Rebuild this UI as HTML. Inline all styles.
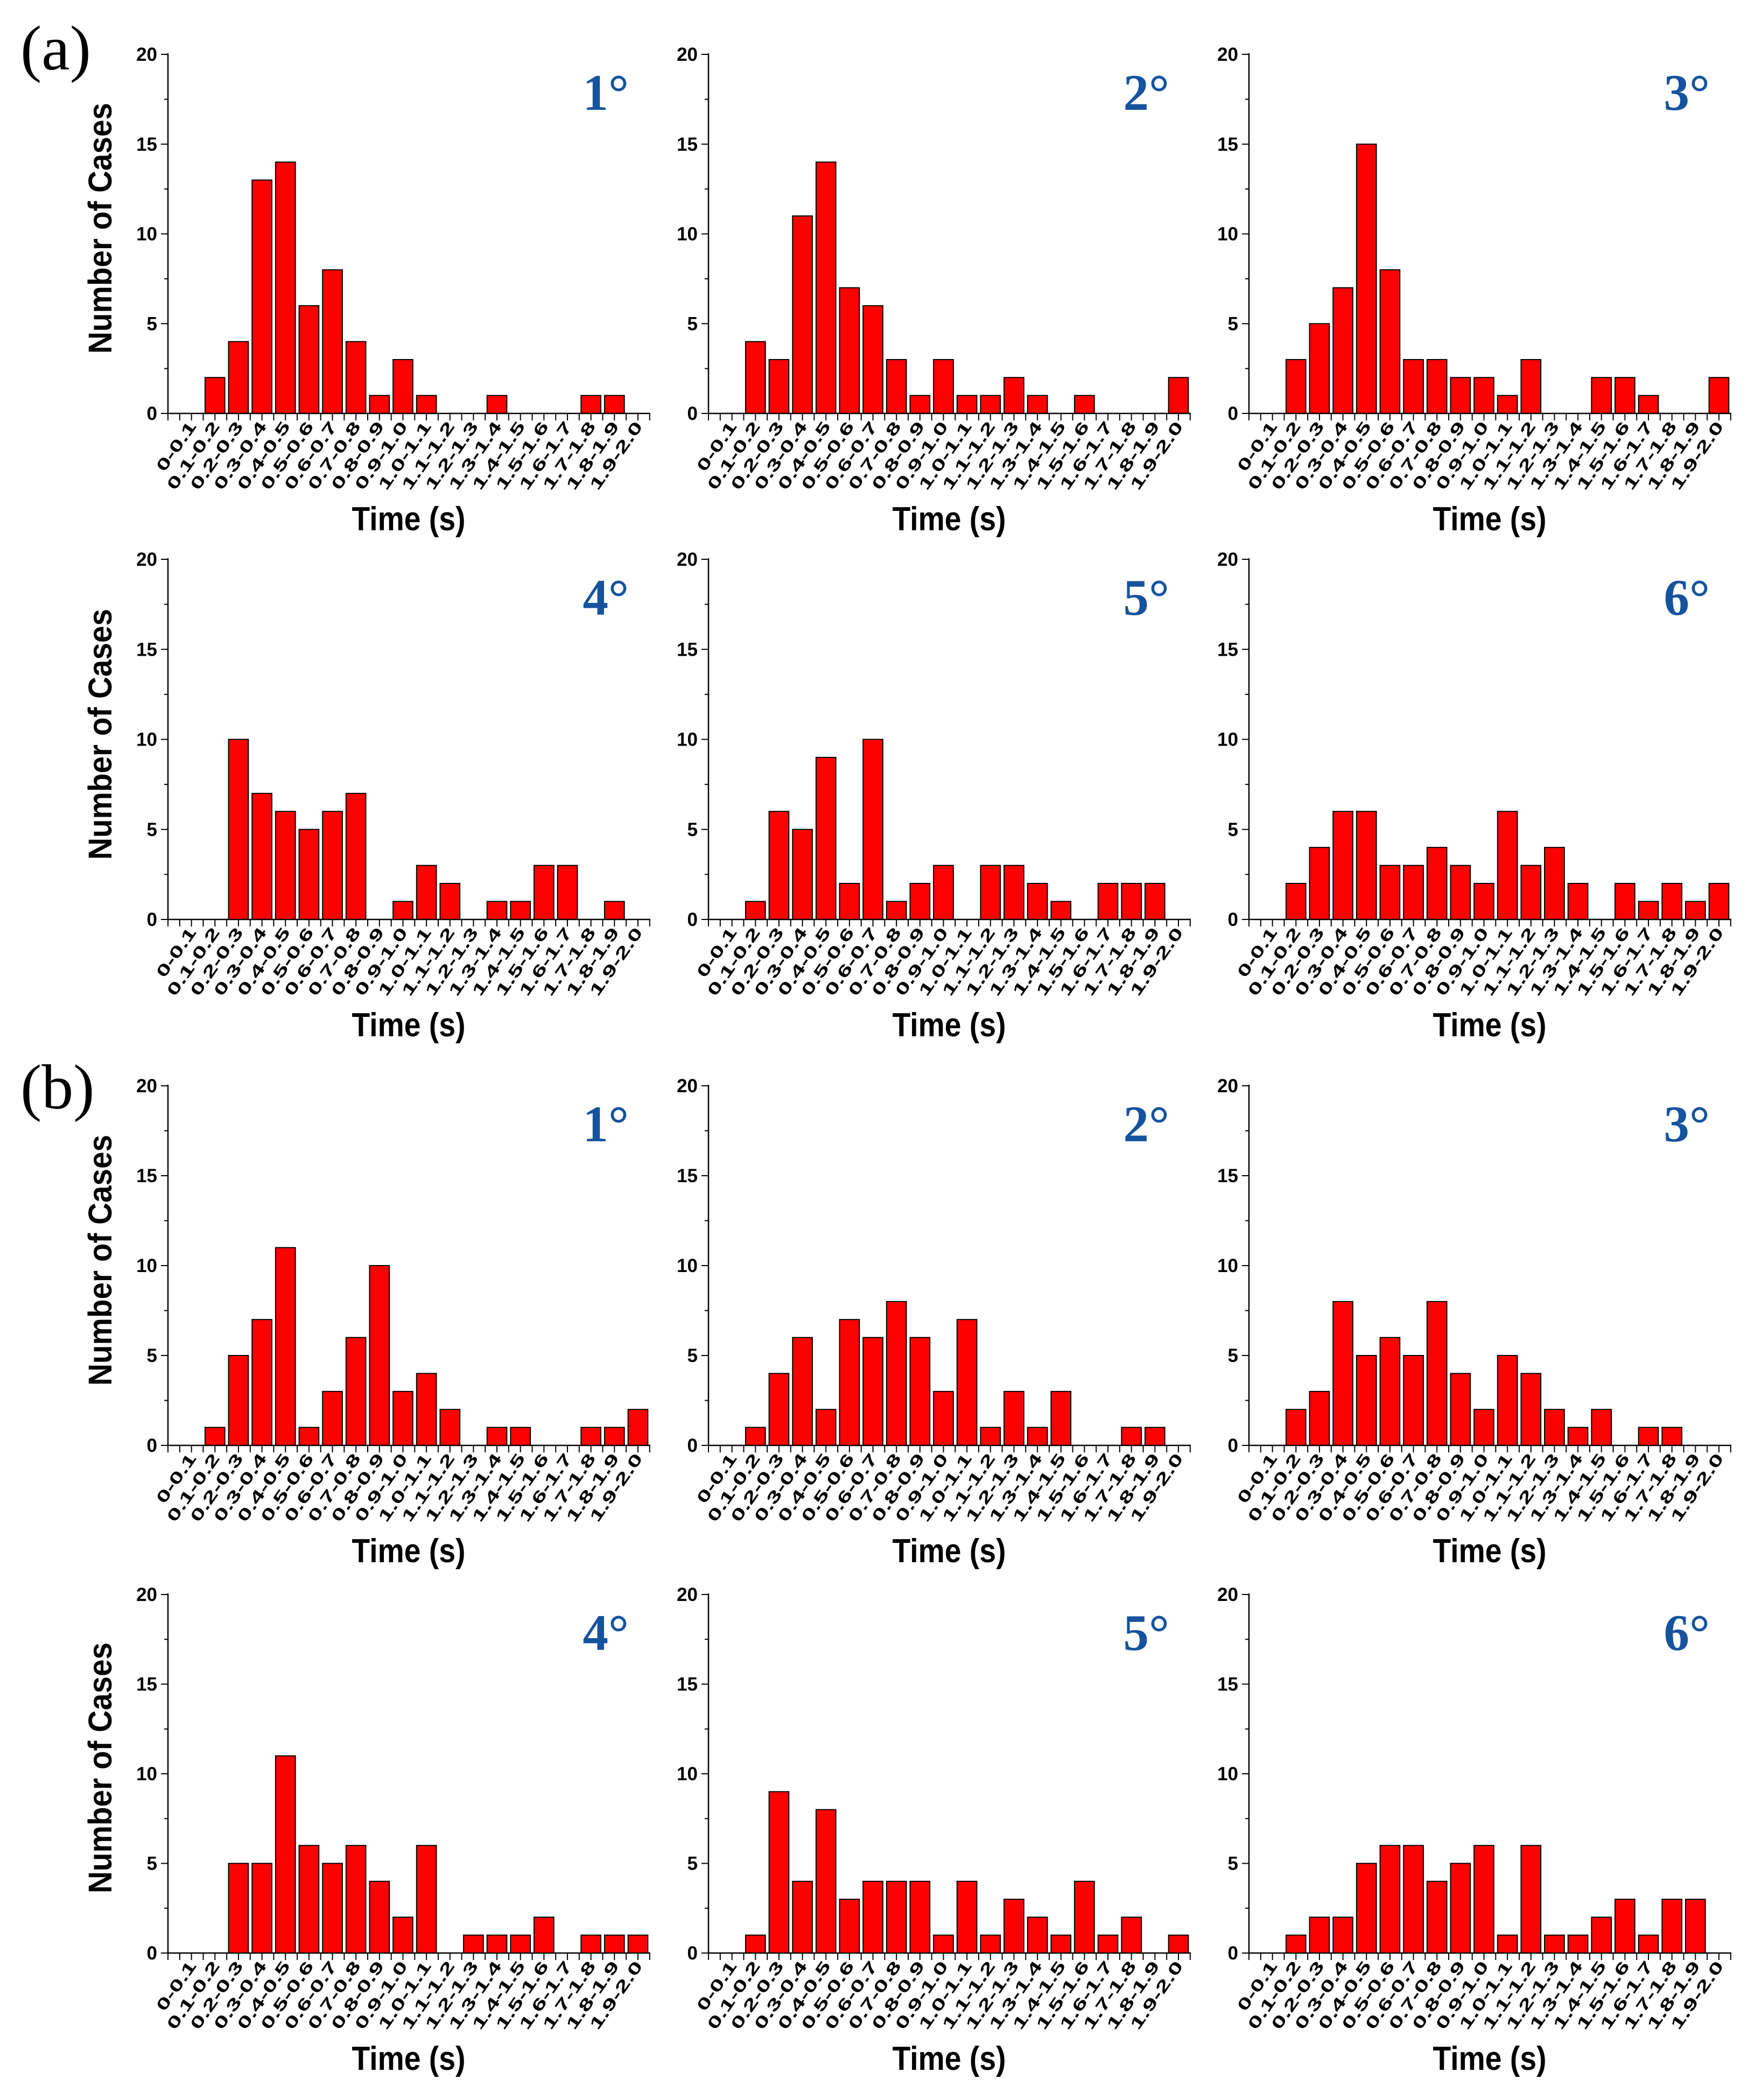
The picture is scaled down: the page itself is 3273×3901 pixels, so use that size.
<!DOCTYPE html>
<html><head><meta charset="utf-8"><style>
html,body{margin:0;padding:0;background:#fff;}
svg{display:block;}
text{font-family:"Liberation Sans",Arial,sans-serif;}
</style></head><body>
<svg id="fig" width="3273" height="3901" viewBox="0 0 3273 3901" xmlns="http://www.w3.org/2000/svg">
<rect width="3273" height="3901" fill="#fff"/>
<text x="38" y="129" font-size="118" style="font-family:'Liberation Serif',serif">(a)</text>
<text x="38" y="2059" font-size="118" style="font-family:'Liberation Serif',serif">(b)</text>
</svg>
<script>
const categories = ["0-0.1","0.1-0.2","0.2-0.3","0.3-0.4","0.4-0.5","0.5-0.6","0.6-0.7","0.7-0.8","0.8-0.9","0.9-1.0","1.0-1.1","1.1-1.2","1.2-1.3","1.3-1.4","1.4-1.5","1.5-1.6","1.6-1.7","1.7-1.8","1.8-1.9","1.9-2.0"];
const yTicks = [0,5,10,15,20];
const degreeLabels = ["1°","2°","3°","4°","5°","6°","1°","2°","3°","4°","5°","6°"];
const a1 = [0,2,4,13,14,6,8,4,1,3,1,0,0,1,0,0,0,1,1,0];
const a2 = [0,4,3,11,14,7,6,3,1,3,1,1,2,1,0,1,0,0,0,2];
const a3 = [0,3,5,7,15,8,3,3,2,2,1,3,0,0,2,2,1,0,0,2];
const a4 = [0,0,10,7,6,5,6,7,0,1,3,2,0,1,1,3,3,0,1,0];
const a5 = [0,1,6,5,9,2,10,1,2,3,0,3,3,2,1,0,2,2,2,0];
const a6 = [0,2,4,6,6,3,3,4,3,2,6,3,4,2,0,2,1,2,1,2];
const b1 = [0,1,5,7,11,1,3,6,10,3,4,2,0,1,1,0,0,1,1,2];
const b2 = [0,1,4,6,2,7,6,8,6,3,7,1,3,1,3,0,0,1,1,0];
const b3 = [0,2,3,8,5,6,5,8,4,2,5,4,2,1,2,0,1,1,0,0];
const b4 = [0,0,5,5,11,6,5,6,4,2,6,0,1,1,1,2,0,1,1,1];
const b5 = [0,1,9,4,8,3,4,4,4,1,4,1,3,2,1,4,1,2,0,1];
const b6 = [0,1,2,2,5,6,6,4,5,6,1,6,1,1,2,3,1,3,3,0];
const seriesList = [a1,a2,a3,a4,a5,a6,b1,b2,b3,b4,b5,b6];
const seriesNames = ["a-1deg","a-2deg","a-3deg","a-4deg","a-5deg","a-6deg","b-1deg","b-2deg","b-3deg","b-4deg","b-5deg","b-6deg"];

const NS="http://www.w3.org/2000/svg";
const svg=document.getElementById('fig');
const colX=[312,1316,2320];
const rowTop=[101,1039,2017,2962];
const rowZero=[768,1708,2685,3628];
const catW=43.65, plotW=896, yMax=20;

function mk(tag,attrs,parent){const e=document.createElementNS(NS,tag);for(const k in attrs)e.setAttribute(k,attrs[k]);(parent||svg).appendChild(e);return e;}

seriesList.forEach((data,i)=>{
  const ox=colX[i%3], r=Math.floor(i/3), top=rowTop[r], y0=rowZero[r];
  const yS=v=>y0-(v/yMax)*(y0-top);
  const xC=c=>ox+catW*(c+1);
  const g=mk('g',{});
  
  
  data.forEach((v,c)=>{
    if(v<=0)return;
    const bw=catW*0.84;
    const b=mk('rect',{x:xC(c)-bw/2,y:yS(v),width:bw,height:y0-yS(v),fill:'#ff0000',stroke:'#000','stroke-width':2},g);
    
    
  });
  const ya=mk('line',{x1:ox,y1:top-2,x2:ox,y2:y0,stroke:'#000','stroke-width':2.5},g);
  
  
  const xa=mk('line',{x1:ox,y1:y0,x2:ox+plotW,y2:y0,stroke:'#000','stroke-width':2.5},g);
  
  
  for(let v=0;v<=yMax;v+=2.5){
    const major=(v%5===0);
    mk('line',{x1:ox-(major?13:7),y1:yS(v),x2:ox,y2:yS(v),stroke:'#000','stroke-width':2},g);
  }
  yTicks.forEach(v=>{
    const t=mk('text',{x:ox-20,y:yS(v)+12,'text-anchor':'end','font-size':35,'font-weight':'bold'},g);
    t.textContent=v;
    
    
  });
  for(let k=0;k<=categories.length*2+1;k++){
    mk('line',{x1:ox+k*catW/2,y1:y0,x2:ox+k*catW/2,y2:y0+13,stroke:'#000','stroke-width':2},g);
  }
  categories.forEach((c,k)=>{
    const cx=xC(k)+10, cy=y0+24;
    const t=mk('text',{x:0,y:0,'text-anchor':'end','font-size':30,'font-weight':'bold',transform:`translate(${cx},${cy}) rotate(-55)`,textLength:c.length*21,lengthAdjust:'spacingAndGlyphs'},g);
    t.textContent=c;
    
    
  });
  const xt=mk('text',{x:ox+447,y:y0+217,'text-anchor':'middle','font-size':62,'font-weight':'bold',textLength:211,lengthAdjust:'spacingAndGlyphs'},g);
  xt.textContent='Time (s)';
  
  
  if(i%3===0){
    const yt=mk('text',{x:0,y:0,'text-anchor':'middle','font-size':61,'font-weight':'bold',transform:`translate(${ox-105},${y0-344}) rotate(-90)`,textLength:466,lengthAdjust:'spacingAndGlyphs'},g);
    yt.textContent='Number of Cases';
    
    
  }
  const dl=mk('text',{x:ox+856,y:top+103,'text-anchor':'end','font-size':95,'font-weight':'bold',fill:'#15539e',style:"font-family:'Liberation Serif',serif"},g);
  dl.textContent=degreeLabels[i];
  
  
});
</script>
</body></html>
